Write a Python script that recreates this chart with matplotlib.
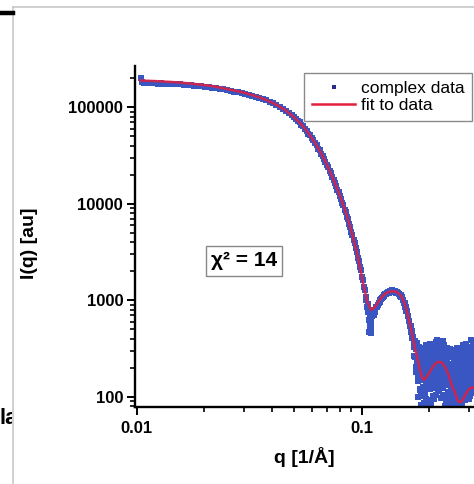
import matplotlib
matplotlib.use("Agg")
import matplotlib.pyplot as plt
from matplotlib.lines import Line2D
from matplotlib.ticker import FixedLocator, FixedFormatter, LogLocator, NullFormatter

plt.rcParams["font.family"] = ["Liberation Sans", "DejaVu Sans"]

# ---- measured scattering data -------------------------------------------
# low-q plateau (Guinier region)
plateau_q = [0.0104, 0.0106, 0.0108, 0.0111, 0.0114, 0.0117, 0.0120, 0.0124, 0.0128, 0.0132,
             0.0136, 0.0141, 0.0146, 0.0151, 0.0156, 0.0162, 0.0168, 0.0174, 0.0180, 0.0187,
             0.0194, 0.0201, 0.0209, 0.0217, 0.0225, 0.0234, 0.0243, 0.0252, 0.0262, 0.0272,
             0.0282, 0.0293, 0.0304, 0.0315, 0.0327, 0.0339, 0.0351, 0.0364, 0.0377, 0.0390,
             0.0404, 0.0418, 0.0432, 0.0447, 0.0462, 0.0477, 0.0492]
plateau_I = [199000, 181000, 178500, 177000, 178000, 176500, 177500, 175500, 176000, 174500,
             175000, 173500, 174000, 172500, 172000, 171500, 170000, 168500, 167500, 166000,
             164500, 163000, 161000, 159000, 157500, 155000, 152500, 150000, 147500, 145000,
             142500, 140000, 137000, 134000, 131000, 128000, 124500, 121000, 117500, 114000,
             109500, 105000, 100500, 96000, 91500, 87000, 82000]

# steep decay down to the first minimum
decay_q = [0.050, 0.051, 0.052, 0.053, 0.054, 0.055, 0.056, 0.057, 0.058, 0.059,
           0.060, 0.061, 0.062, 0.063, 0.064, 0.065, 0.066, 0.067, 0.068, 0.069,
           0.070, 0.071, 0.072, 0.073, 0.074, 0.075, 0.076, 0.077, 0.078, 0.079,
           0.080, 0.081, 0.082, 0.083, 0.084, 0.085, 0.086, 0.087, 0.088, 0.089,
           0.090, 0.091, 0.092, 0.093, 0.094, 0.095, 0.096, 0.097, 0.098, 0.099,
           0.100, 0.101, 0.102, 0.103, 0.104, 0.105, 0.106, 0.107, 0.108, 0.109,
           0.110, 0.1065, 0.1075, 0.1085, 0.1095, 0.1105, 0.1115, 0.1088, 0.1102]
decay_I = [78500, 76200, 71800, 69500, 65600, 63100, 59000, 56900, 53200, 51000,
           47500, 45500, 42300, 40300, 37300, 35600, 32900, 31300, 28800, 27300,
           25100, 23800, 21700, 20600, 18800, 17800, 16200, 15300, 13900, 13150,
           11900, 11250, 10150, 9600, 8620, 8150, 7300, 6870, 6110, 5750,
           5110, 4780, 4190, 3930, 3440, 3190, 2750, 2560, 2190, 2040,
           1730, 1610, 1360, 1290, 1090, 1000, 860, 760, 620, 540,
           600, 920, 470, 800, 455, 480, 720, 680, 560]

# first side maximum
ring_q = [0.111, 0.112, 0.113, 0.114, 0.115, 0.116, 0.117, 0.118, 0.119, 0.120,
          0.121, 0.122, 0.123, 0.124, 0.125, 0.126, 0.127, 0.128, 0.129, 0.130,
          0.131, 0.132, 0.133, 0.134, 0.135, 0.136, 0.137, 0.138, 0.139, 0.140,
          0.141, 0.142, 0.143, 0.144, 0.145, 0.146, 0.147, 0.148, 0.149, 0.150,
          0.151, 0.152, 0.153, 0.154, 0.155, 0.156, 0.157, 0.158, 0.159, 0.160,
          0.161, 0.162, 0.163, 0.164, 0.165, 0.166, 0.167, 0.168, 0.169, 0.170]
ring_I = [690, 760, 700, 790, 760, 850, 860, 900, 930, 960,
          1000, 1020, 1060, 1075, 1110, 1125, 1170, 1150, 1195, 1185,
          1230, 1200, 1250, 1215, 1260, 1225, 1270, 1230, 1255, 1210,
          1245, 1200, 1225, 1180, 1195, 1150, 1160, 1110, 1120, 1070,
          1075, 1000, 1010, 940, 935, 860, 850, 780, 770, 690,
          680, 610, 605, 535, 540, 470, 475, 405, 420, 350]

# noisy high-q tail (two interleaved frames)
tail_q = [0.1710, 0.1718, 0.1726, 0.1734, 0.1742, 0.1750, 0.1758, 0.1766, 0.1774, 0.1782,
          0.1790, 0.1798, 0.1806, 0.1814, 0.1822, 0.1830, 0.1838, 0.1846, 0.1854, 0.1862,
          0.1870, 0.1878, 0.1886, 0.1894, 0.1902, 0.1910, 0.1918, 0.1926, 0.1934, 0.1942,
          0.1950, 0.1958, 0.1966, 0.1974, 0.1982, 0.1990, 0.1998, 0.2006, 0.2014, 0.2022,
          0.2030, 0.2038, 0.2046, 0.2054, 0.2062, 0.2070, 0.2078, 0.2086, 0.2094, 0.2102,
          0.2110, 0.2118, 0.2126, 0.2134, 0.2142, 0.2150, 0.2158, 0.2166, 0.2174, 0.2182,
          0.2190, 0.2198, 0.2206, 0.2214, 0.2222, 0.2230, 0.2238, 0.2246, 0.2254, 0.2262,
          0.2270, 0.2278, 0.2286, 0.2294, 0.2302, 0.2310, 0.2318, 0.2326, 0.2334, 0.2342,
          0.2350, 0.2358, 0.2366, 0.2374, 0.2382, 0.2390, 0.2398, 0.2406, 0.2414, 0.2422,
          0.2430, 0.2438, 0.2446, 0.2454, 0.2462, 0.2470, 0.2478, 0.2486, 0.2494, 0.2502,
          0.2510, 0.2518, 0.2526, 0.2534, 0.2542, 0.2550, 0.2558, 0.2566, 0.2574, 0.2582,
          0.2590, 0.2598, 0.2606, 0.2614, 0.2622, 0.2630, 0.2638, 0.2646, 0.2654, 0.2662,
          0.2670, 0.2678, 0.2686, 0.2694, 0.2702, 0.2710, 0.2718, 0.2726, 0.2734, 0.2742,
          0.2750, 0.2758, 0.2766, 0.2774, 0.2782, 0.2790, 0.2798, 0.2806, 0.2814, 0.2822,
          0.2830, 0.2838, 0.2846, 0.2854, 0.2862, 0.2870, 0.2878, 0.2886, 0.2894, 0.2902,
          0.2910, 0.2918, 0.2926, 0.2934, 0.2942, 0.2950, 0.2958, 0.2966, 0.2974, 0.2982,
          0.2990, 0.2998, 0.3006, 0.3014, 0.3022, 0.3030, 0.3038, 0.3046, 0.3054, 0.3062,
          0.3070, 0.3078, 0.3086, 0.3094, 0.3102, 0.3110, 0.3118, 0.3126, 0.3134, 0.3142,
          0.3150, 0.3158, 0.3166, 0.3174]
tail_I = [330, 375, 255, 320, 203, 310, 212, 310, 145, 240,
          292, 173, 325, 117, 205, 82, 230, 173, 102, 297,
          125, 243, 86, 185, 320, 106, 163, 95, 218, 146,
          274, 92, 195, 133, 326, 84, 226, 174, 266, 133,
          210, 83, 291, 169, 262, 135, 342, 205, 122, 254,
          156, 318, 195, 277, 104, 240, 386, 147, 263, 189,
          304, 135, 260, 180, 349, 213, 282, 96, 229, 312,
          150, 243, 105, 298, 175, 347, 144, 211, 80, 240,
          292, 144, 206, 92, 243, 155, 321, 92, 193, 104,
          195, 91, 262, 113, 309, 90, 202, 129, 86, 218,
          146, 269, 87, 175, 88, 216, 114, 307, 85, 148,
          181, 119, 237, 85, 149, 273, 102, 186, 120, 319,
          134, 208, 93, 158, 278, 113, 173, 238, 98, 149,
          189, 104, 250, 131, 166, 307, 93, 208, 149, 120,
          236, 127, 183, 105, 281, 162, 99, 215, 126, 352,
          173, 119, 240, 101, 203, 149, 290, 116, 222, 168,
          134, 270, 190, 101, 232, 162, 328, 128, 209, 109,
          244, 154, 185, 285, 115, 220, 145, 365, 170, 199,
          159, 259, 123, 213]
tail2_q = [0.1714, 0.1722, 0.1730, 0.1738, 0.1746, 0.1754, 0.1762, 0.1770, 0.1778, 0.1786,
           0.1794, 0.1802, 0.1810, 0.1818, 0.1826, 0.1834, 0.1842, 0.1850, 0.1858, 0.1866,
           0.1874, 0.1882, 0.1890, 0.1898, 0.1906, 0.1914, 0.1922, 0.1930, 0.1938, 0.1946,
           0.1954, 0.1962, 0.1970, 0.1978, 0.1986, 0.1994, 0.2002, 0.2010, 0.2018, 0.2026,
           0.2034, 0.2042, 0.2050, 0.2058, 0.2066, 0.2074, 0.2082, 0.2090, 0.2098, 0.2106,
           0.2114, 0.2122, 0.2130, 0.2138, 0.2146, 0.2154, 0.2162, 0.2170, 0.2178, 0.2186,
           0.2194, 0.2202, 0.2210, 0.2218, 0.2226, 0.2234, 0.2242, 0.2250, 0.2258, 0.2266,
           0.2274, 0.2282, 0.2290, 0.2298, 0.2306, 0.2314, 0.2322, 0.2330, 0.2338, 0.2346,
           0.2354, 0.2362, 0.2370, 0.2378, 0.2386, 0.2394, 0.2402, 0.2410, 0.2418, 0.2426,
           0.2434, 0.2442, 0.2450, 0.2458, 0.2466, 0.2474, 0.2482, 0.2490, 0.2498, 0.2506,
           0.2514, 0.2522, 0.2530, 0.2538, 0.2546, 0.2554, 0.2562, 0.2570, 0.2578, 0.2586,
           0.2594, 0.2602, 0.2610, 0.2618, 0.2626, 0.2634, 0.2642, 0.2650, 0.2658, 0.2666,
           0.2674, 0.2682, 0.2690, 0.2698, 0.2706, 0.2714, 0.2722, 0.2730, 0.2738, 0.2746,
           0.2754, 0.2762, 0.2770, 0.2778, 0.2786, 0.2794, 0.2802, 0.2810, 0.2818, 0.2826,
           0.2834, 0.2842, 0.2850, 0.2858, 0.2866, 0.2874, 0.2882, 0.2890, 0.2898, 0.2906,
           0.2914, 0.2922, 0.2930, 0.2938, 0.2946, 0.2954, 0.2962, 0.2970, 0.2978, 0.2986,
           0.2994, 0.3002, 0.3010, 0.3018, 0.3026, 0.3034, 0.3042, 0.3050, 0.3058, 0.3066,
           0.3074, 0.3082, 0.3090, 0.3098, 0.3106, 0.3114, 0.3122, 0.3130, 0.3138, 0.3146,
           0.3154, 0.3162, 0.3170, 0.3178]
tail2_I = [265, 360, 325, 180, 348, 230, 362, 160, 265, 100,
           232, 308, 120, 247, 150, 312, 105, 253, 187, 127,
           215, 103, 291, 155, 110, 251, 88, 340, 138, 231,
           119, 217, 90, 298, 186, 244, 121, 354, 171, 283,
           265, 153, 211, 329, 102, 245, 152, 300, 217, 94,
           256, 128, 305, 192, 369, 165, 246, 332, 118, 289,
           189, 380, 115, 325, 209, 268, 152, 291, 354, 162,
           325, 193, 275, 123, 380, 157, 239, 101, 283, 180,
           132, 249, 86, 322, 143, 260, 101, 277, 113, 309,
           255, 161, 92, 213, 159, 285, 92, 219, 171, 93,
           211, 99, 172, 290, 123, 181, 94, 237, 145, 203,
           141, 249, 87, 195, 114, 153, 292, 91, 210, 139,
           189, 88, 258, 123, 148, 83, 218, 103, 308, 139,
           149, 274, 110, 186, 86, 232, 133, 163, 344, 105,
           106, 192, 138, 300, 166, 92, 224, 130, 266, 162,
           228, 149, 105, 196, 128, 304, 170, 216, 102, 263,
           209, 150, 95, 246, 177, 132, 288, 168, 114, 384,
           134, 204, 325, 160, 255, 110, 185, 235, 130, 294,
           184, 114, 303, 163]

# ---- model fit -----------------------------------------------------------
fit_q = [0.0104, 0.012, 0.014, 0.016, 0.019, 0.022, 0.026,
         0.030, 0.034, 0.038, 0.042, 0.046, 0.050, 0.054, 0.058, 0.062, 0.066, 0.070,
         0.074, 0.078, 0.082, 0.086, 0.090, 0.094, 0.098, 0.102, 0.106, 0.110,
         0.114, 0.118, 0.122, 0.126, 0.130, 0.134, 0.138, 0.142, 0.146, 0.150, 0.154,
         0.158, 0.162, 0.166, 0.170, 0.174, 0.178, 0.182, 0.186, 0.190, 0.194, 0.198, 0.202,
         0.207, 0.212, 0.217, 0.222, 0.227, 0.232, 0.237, 0.242, 0.247, 0.252, 0.257,
         0.262, 0.267, 0.272, 0.277, 0.282,
         0.288, 0.294, 0.300, 0.306, 0.312, 0.318]
fit_I = [189000, 186500, 183000, 179000, 172000, 164500, 152000,
         141300, 129700, 117800, 105200, 92300, 79100, 66100, 53700, 42700, 33300, 25400,
         19050, 14130, 10350, 7450, 5220, 3530, 2265, 1413, 955, 794,
         841, 944, 1060, 1148, 1202, 1230, 1236, 1225, 1180, 1096, 966,
         804, 631, 490, 372, 290, 235, 185, 155, 150, 160, 172, 186,
         204, 219, 228, 230, 225, 211, 195, 174, 150, 129, 118,
         104, 91, 88, 89, 94,
         104, 112, 120, 124, 125, 123]

chi2_value = 14
x_ticks = [0.01, 0.1]
x_ticklabels = ["0.01", "0.1"]
y_ticks = [100, 1000, 10000, 100000]
y_ticklabels = ["100", "1000", "10000", "100000"]

# ---- styling -------------------------------------------------------------
DATA_BLUE = "#3a56c2"
LEGEND_DOT = "#2c2c8e"
FIT_RED = "#e41e3c"

W, H = 474, 484
fig = plt.figure(figsize=(W / 100, H / 100), dpi=100)
fig.patch.set_facecolor("white")

x0, yb, yt = 135, 406.7, 66
ax = fig.add_axes([x0 / W, 1 - yb / H, 1 - x0 / W, (yb - yt) / H])
ax.set_xscale("log")
ax.set_yscale("log")

data_q = plateau_q + decay_q + ring_q + tail_q + tail2_q
data_I = plateau_I + decay_I + ring_I + tail_I + tail2_I
ax.plot(data_q, data_I, ls="none", marker="s", ms=3.9, mew=0,
        color=DATA_BLUE, zorder=2)
ax.plot(fit_q, fit_I, color=FIT_RED, lw=1.8, alpha=0.85, zorder=3,
        solid_joinstyle="round")

ax.set_xlim(0.00983, 0.3155)
ax.set_ylim(78.8, 267000)

ax.xaxis.set_major_locator(FixedLocator(x_ticks))
ax.xaxis.set_major_formatter(FixedFormatter(x_ticklabels))
ax.xaxis.set_minor_locator(LogLocator(base=10, subs=range(2, 10)))
ax.xaxis.set_minor_formatter(NullFormatter())
ax.yaxis.set_major_locator(FixedLocator(y_ticks))
ax.yaxis.set_major_formatter(FixedFormatter(y_ticklabels))
ax.yaxis.set_minor_locator(LogLocator(base=10, subs=range(2, 10)))
ax.yaxis.set_minor_formatter(NullFormatter())

ax.tick_params(which="major", direction="out", length=6, width=1.4,
               labelsize=12, pad=2.5)
ax.tick_params(which="minor", direction="out", length=3.5, width=1.2)
ax.tick_params(axis="x", which="major", pad=4)
for lab in ax.get_xticklabels() + ax.get_yticklabels():
    lab.set_fontweight("bold")

for side in ("top", "right"):
    ax.spines[side].set_visible(False)
for side in ("left", "bottom"):
    ax.spines[side].set_linewidth(1.7)

ax.set_xlabel("q [1/Å]", fontsize=14, fontweight="bold", labelpad=8)
fig.text(30 / W, 1 - 243 / H, "I(q) [au]", rotation=90, ha="center",
         va="center", fontsize=14, fontweight="bold")

handles = [Line2D([], [], ls="none", marker="s", ms=3, mew=0, color=LEGEND_DOT),
           Line2D([], [], color=FIT_RED, lw=1.8)]
leg = ax.legend(handles, ["complex data", "fit to data"], loc="upper right",
                bbox_to_anchor=((472 - x0) / (W - x0), (yb - 73) / (yb - yt)),
                fontsize=12.5, frameon=True, fancybox=False, framealpha=1,
                edgecolor="#8a8a8a", borderpad=0.45, labelspacing=0.12,
                handlelength=2.5, handletextpad=0.3, borderaxespad=0)
leg.get_frame().set_linewidth(1.0)

ax.text((244 - x0) / (W - x0), (yb - 261) / (yb - yt), f"χ² = {chi2_value}",
        transform=ax.transAxes, ha="center", va="center", fontsize=15,
        fontweight="bold", zorder=5,
        bbox=dict(boxstyle="square,pad=0.25", fc="white", ec="#888888", lw=1.0))

# panel frame and neighbouring panel edge
fig.add_artist(Line2D([12.7 / W, 12.7 / W], [0, 1 - 7.3 / H], color="#c8c8c8",
                      lw=1.2, transform=fig.transFigure))
fig.add_artist(Line2D([12.7 / W, 1], [1 - 7.3 / H, 1 - 7.3 / H], color="#c8c8c8",
                      lw=1.2, transform=fig.transFigure))
fig.add_artist(Line2D([0, 13 / W], [1 - 12.5 / H, 1 - 12.5 / H], color="black",
                      lw=3.2, transform=fig.transFigure))
side_ax = fig.add_axes([0, 0, 12.2 / W, 1])
side_ax.axis("off")
side_ax.text(-0.5 / W, 1 - 424 / H, "la", transform=fig.transFigure,
             ha="left", va="baseline", fontsize=16, fontweight="bold",
             clip_on=True)

fig.savefig("out.png", dpi=100, facecolor="white")
